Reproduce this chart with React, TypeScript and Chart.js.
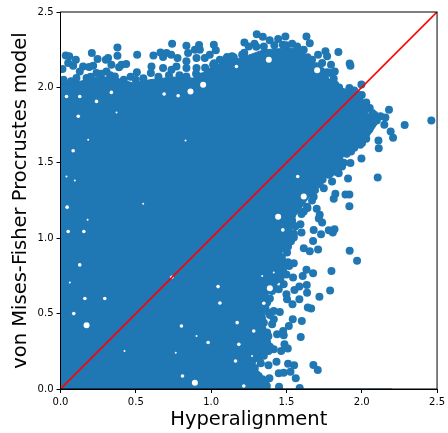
import React, { useEffect, useRef } from "react";
import { Chart, registerables } from "chart.js";

Chart.register(...registerables);

const tickValues = [0, 0.5, 1, 1.5, 2, 2.5];
const xTitle = "Hyperalignment";
const yTitle = "von Mises-Fisher Procrustes model";

// Outline of the saturated part of the cloud, where single markers cannot be told apart
const denseOutline: [number, number][] = [
  [0, 2.029], [0.128, 2.04], [0.261, 2.073], [0.372, 2.062], [0.482, 2.029], [0.593, 2.051], [0.748, 2.069], [0.881, 2.062],
  [1.084, 2.173], [1.195, 2.195], [1.35, 2.25], [1.527, 2.261], [1.615, 2.239], [1.659, 2.161], [1.748, 2.128], [1.781, 2.062],
  [1.803, 2.018], [1.903, 1.985], [1.991, 1.973], [2.009, 1.918], [2.002, 1.841], [2.058, 1.819], [2.113, 1.774], [2.069, 1.708],
  [2.024, 1.642], [1.936, 1.587], [1.881, 1.553], [1.858, 1.476], [1.792, 1.409], [1.726, 1.409], [1.681, 1.32], [1.637, 1.254],
  [1.56, 1.148], [1.538, 1.06], [1.516, 0.971], [1.471, 0.905], [1.504, 0.772], [1.449, 0.706], [1.383, 0.639], [1.35, 0.551],
  [1.361, 0.462], [1.327, 0.407], [1.372, 0.33], [1.372, 0.263], [1.305, 0.197], [1.272, 0.119], [1.327, 0.064], [1.361, 0], [2.2, 0],
];

const topLeftPoints: [number, number][] = [
  [0.013, 2.122], [0.035, 2.212], [0.058, 2.206], [0.102, 2.184], [0.051, 2.162], [0.084, 2.144], [0.15, 2.139], [0.19, 2.135],
  [0.217, 2.144], [0.208, 2.228], [0.246, 2.188], [0.301, 2.184], [0.316, 2.195], [0.378, 2.265], [0.378, 2.21], [0.338, 2.15],
  [0.389, 2.133], [0.405, 2.15], [0.436, 2.155], [0.509, 2.217], [0.465, 2.07], [0.507, 2.1], [0.604, 2.139], [0.6, 2.095],
  [0.617, 2.212], [0.664, 2.232], [0.681, 2.201], [0.704, 2.228], [0.681, 2.128], [0.735, 2.217], [0.777, 2.195], [0.741, 2.29],
  [0.836, 2.277], [0.847, 2.228], [0.836, 2.173], [0.892, 2.25], [0.92, 2.281], [0.925, 2.25], [1.018, 2.283], [1.031, 2.246],
  [0.958, 2.195], [0.991, 2.217], [0.903, 2.195], [0.936, 2.073], [0.77, 2.139], [0.836, 2.128], [0.128, 2.106], [0.239, 2.095],
  [0.305, 2.106], [0.106, 2.062], [0.173, 2.062], [0.361, 2.073], [0.737, 2.117], [0.836, 2.073], [1.013, 2.15], [1.058, 2.183],
  [0.98, 2.106], [0.903, 2.128], [1.035, 2.106],
  [0.02, 2.05], [0.07, 2.04], [0.2, 2.07], [0.27, 2.09], [0.33, 2.08], [0.42, 2.05], [0.5, 2.05], [0.55, 2.06],
  [0.65, 2.07], [0.72, 2.08], [0.79, 2.08], [0.9, 2.09], [0.96, 2.13], [1.02, 2.16],
];

const upperRightPoints: [number, number][] = [
  [1.303, 2.352], [1.343, 2.336], [1.445, 2.321], [1.493, 2.338], [1.633, 2.338], [1.655, 2.292], [1.221, 2.298], [1.288, 2.29],
  [1.389, 2.312], [1.476, 2.283], [1.538, 2.29], [1.206, 2.217], [1.106, 2.201], [1.759, 2.239], [1.845, 2.235], [1.71, 2.217],
  [1.77, 2.206], [1.92, 2.159], [1.925, 2.144], [1.796, 2.15], [1.821, 2.106], [1.792, 2.095], [1.814, 2.058], [1.75, 2.047],
  [1.998, 2.02], [1.918, 1.996], [2.031, 1.878], [2.053, 1.863], [2.181, 1.852], [2.084, 1.819], [2.124, 1.808], [2.157, 1.801],
  [2.462, 1.781], [2.285, 1.75], [2.15, 1.752], [2.192, 1.708], [2.208, 1.666], [2.111, 1.648], [2.113, 1.597], [1.998, 1.529],
  [1.929, 1.575], [1.925, 1.498], [1.909, 1.396], [2.106, 1.403], [1.892, 1.29], [1.918, 1.29], [1.825, 1.294], [1.814, 1.261],
  [1.918, 1.212], [1.701, 1.195], [1.721, 1.155], [1.748, 1.332], [1.803, 1.376], [1.847, 1.431], [1.869, 1.476], [2.035, 1.763],
  [2.002, 1.631], [1.991, 1.686], [1.25, 2.272], [1.35, 2.272], [1.571, 2.272], [1.615, 2.25], [1.67, 2.183], [1.737, 2.161],
  [1.681, 2.139], [1.139, 2.206], [1.825, 2.018], [2.08, 1.774], [1.681, 1.275], [1.69, 1.32], [1.637, 1.208], [1.615, 1.177],
  [1.792, 1.431], [1.836, 1.453],
  [2.0, 1.95], [2.03, 1.9], [2.02, 1.85], [2.07, 1.83], [2.1, 1.78], [2.05, 1.72], [2.03, 1.66], [1.99, 1.62],
  [1.95, 1.6], [1.9, 1.56], [1.88, 1.5], [1.83, 1.44], [1.78, 1.42], [1.74, 1.39], [1.72, 1.36], [1.66, 1.3],
  [1.67, 1.25], [1.64, 1.2], [1.6, 1.16], [1.1, 2.19], [1.15, 2.2], [1.22, 2.23], [1.3, 2.27], [1.42, 2.28],
  [1.5, 2.28], [1.58, 2.25], [1.64, 2.2], [1.7, 2.14], [1.77, 2.1], [1.79, 2.03], [1.85, 2.0], [1.95, 1.98],
];

const lowerRightPoints: [number, number][] = [
  [1.819, 1.06], [1.781, 1.053], [1.808, 1.038], [1.73, 1.027], [1.681, 1.055], [1.737, 1.104], [1.715, 1.131], [1.6, 1.038],
  [1.677, 0.982], [1.71, 0.925], [1.655, 0.914], [1.615, 0.934], [1.511, 0.945], [1.92, 0.916], [1.969, 0.85], [1.549, 0.834],
  [1.633, 0.79], [1.799, 0.783], [1.677, 0.768], [1.608, 0.75], [1.544, 0.739], [1.635, 0.69], [1.586, 0.679], [1.553, 0.657],
  [1.637, 0.639], [1.79, 0.653], [1.719, 0.611], [1.586, 0.595], [1.5, 0.628], [1.504, 0.595], [1.54, 0.562], [1.642, 0.54],
  [1.664, 0.533], [1.456, 0.511], [1.542, 0.462], [1.602, 0.451], [1.516, 0.418], [1.438, 0.363], [1.478, 0.385], [1.482, 0.356],
  [1.595, 0.345], [1.487, 0.296], [1.509, 0.268], [1.465, 0.252], [1.372, 0.374], [1.416, 0.263], [1.434, 0.181], [1.381, 0.157],
  [1.511, 0.168], [1.551, 0.157], [1.679, 0.159], [1.708, 0.126], [1.449, 0.104], [1.482, 0.108], [1.527, 0.115], [1.562, 0.071],
  [1.588, 0.007], [1.451, 0.015], [1.387, 0.071], [1.316, 0.086], [1.482, 0.695], [1.449, 0.662], [1.405, 0.65], [1.361, 0.673],
  [1.372, 0.573], [1.383, 0.507], [1.405, 0.429], [1.35, 0.44], [1.593, 1.093], [1.538, 1.115], [1.482, 1.126], [1.549, 1.004],
  [1.504, 0.905], [1.518, 0.816], [1.416, 0.518], [1.341, 0.064], [1.381, 0.252], [1.416, 0.462], [1.316, 0.031], [1.372, 0.308],
  [1.56, 1.08], [1.55, 1.03], [1.53, 0.98], [1.49, 0.93], [1.47, 0.87], [1.51, 0.84], [1.5, 0.76], [1.46, 0.73],
  [1.42, 0.67], [1.39, 0.6], [1.36, 0.54], [1.39, 0.49], [1.34, 0.4], [1.38, 0.35], [1.39, 0.28], [1.32, 0.2],
  [1.29, 0.14], [1.3, 0.1], [1.36, 0.05], [1.37, 0.02], [1.33, 0.17], [1.35, 0.22],
];

// Gaps left between markers inside the saturated part
const gapsLarge: [number, number][] = [
  [0.947, 2.018], [0.863, 1.973], [1.383, 2.184], [1.704, 2.113], [1.615, 1.276], [0.173, 0.423], [0.892, 0.042],
  [1.445, 1.143], [1.39, 0.668], [1.45, 0.59],
];
const gapsMedium: [number, number][] = [
  [0.338, 1.967], [0.239, 1.907], [0.128, 1.94], [0.118, 1.809], [0.688, 1.956], [0.781, 1.945], [0.084, 1.58], [0.044, 1.206],
  [0.294, 0.6], [0.162, 0.6], [0.088, 0.5], [0.155, 1.044], [0.051, 1.044], [0.81, 0.086], [0.803, 0.418], [0.98, 0.308],
  [1.046, 0.679], [0.739, 0.741], [1.168, 2.139], [1.575, 1.409], [1.35, 0.569], [1.184, 0.296], [1.162, 0.186], [1.173, 0.44],
  [1.283, 0.385], [1.217, 0.02], [0.128, 0.823], [0.04, 1.94], [1.476, 1.055], [1.058, 0.57],
];
const gapsSmall: [number, number][] = [
  [0.549, 1.228], [0.095, 1.383], [0.372, 1.834], [0.83, 1.648], [0.184, 1.653], [0.04, 1.409], [0.062, 0.706], [0.425, 0.252],
  [0.903, 0.352], [1.062, 0.569], [0.765, 0.241], [0.18, 1.122], [1.416, 0.772], [1.339, 0.75], [1.272, 0.219],
];

const identityLine: [number, number][] = [[0, 0], [2.5, 2.5]];

const toXY = (rows: [number, number][]) => rows.map(([x, y]) => ({ x, y }));

const frame = {
  id: "frame",
  afterDatasetsDraw(chart: any) {
    const { ctx, chartArea: a } = chart;
    ctx.save();
    ctx.strokeStyle = "#000";
    ctx.lineWidth = 1;
    ctx.strokeRect(a.left, a.top, a.right - a.left, a.bottom - a.top);
    ctx.restore();
  },
};

export default function App() {
  const ref = useRef<HTMLCanvasElement>(null);

  useEffect(() => {
    document.body.style.margin = "0";
    const blue = "#1f77b4";
    const marker = (rows: [number, number][]) => ({
      data: toXY(rows),
      pointRadius: 4,
      pointBackgroundColor: blue,
      pointBorderWidth: 0,
      showLine: false,
    });
    const gap = (rows: [number, number][], r: number) => ({
      data: toXY(rows),
      pointRadius: r,
      pointBackgroundColor: "#fff",
      pointBorderWidth: 0,
      showLine: false,
    });
    const axis = (title: string, side: "x" | "y") => ({
      type: "linear" as const,
      min: 0,
      max: 2.5,
      afterFit(scale: any) {
        if (side === "x") scale.height = 44;
        else scale.width = 60.5;
      },
      afterBuildTicks(scale: any) {
        scale.ticks = tickValues.map((value) => ({ value }));
      },
      grid: { drawOnChartArea: false, drawTicks: true, tickLength: 4, color: "#000" },
      border: { color: "#000" },
      ticks: {
        color: "#000",
        padding: 3,
        maxRotation: 0,
        font: { family: "DejaVu Sans", size: 10 },
        callback: (v: any) => Number(v).toFixed(1),
      },
      title: {
        display: true,
        text: title,
        color: "#000",
        padding: side === "y" ? { top: 9, bottom: 0 } : { top: 2, bottom: 1 },
        font: { family: "DejaVu Sans", size: 19.5 },
      },
    });

    const chart = new Chart(ref.current!, {
      type: "scatter",
      data: {
        datasets: [
          { data: toXY(identityLine), showLine: true, borderColor: "#ff0000", borderWidth: 1.7, pointRadius: 0, tension: 0 },
          gap(gapsLarge, 3),
          gap(gapsMedium, 1.8),
          gap(gapsSmall, 1),
          marker(topLeftPoints),
          marker(upperRightPoints),
          marker(lowerRightPoints),
          {
            data: toXY(denseOutline),
            showLine: true,
            fill: "origin",
            backgroundColor: blue,
            borderColor: blue,
            borderWidth: 1,
            pointRadius: 0,
            tension: 0,
          },
        ] as any,
      },
      options: {
        animation: false,
        responsive: false,
        devicePixelRatio: 1,
        layout: { padding: { top: 12, right: 10.5, left: 0, bottom: 0 } },
        plugins: { legend: { display: false }, tooltip: { enabled: false } },
        scales: { x: axis(xTitle, "x"), y: axis(yTitle, "y") } as any,
      },
      plugins: [frame],
    });
    return () => chart.destroy();
  }, []);

  return <canvas ref={ref} width={448} height={433} style={{ display: "block" }} />;
}
